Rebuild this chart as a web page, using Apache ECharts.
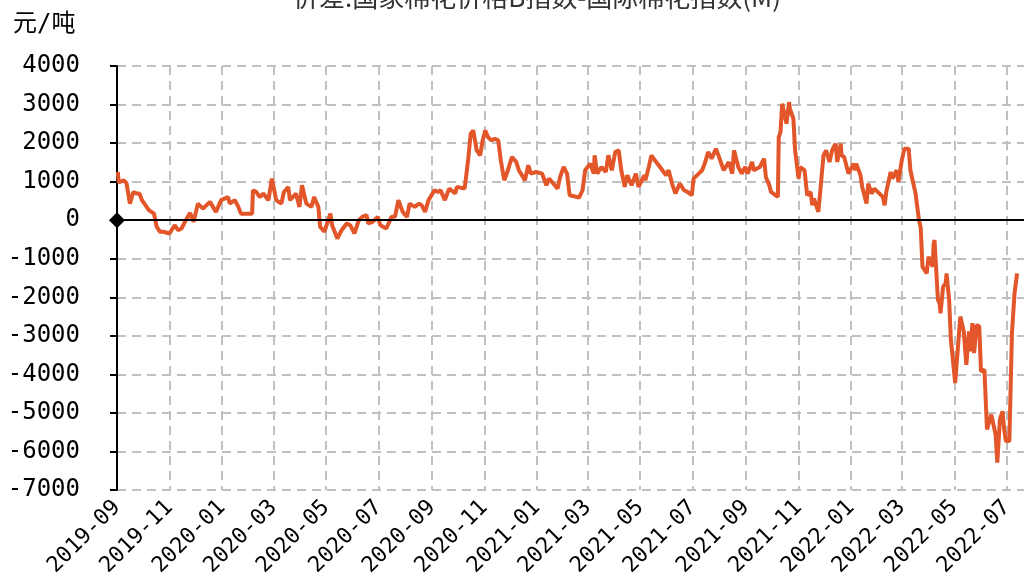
<!DOCTYPE html>
<html>
<head>
<meta charset="utf-8">
<script src="https://cdn.jsdelivr.net/npm/echarts@6/dist/echarts.min.js"></script>
<style>
  html, body { margin: 0; padding: 0; background: #fff; }
  #main { width: 1024px; height: 588px; }
</style>
</head>
<body>
<div id="main"></div>
<script>
// 价差数据（元/吨），按日期
var dates = [
  '2019-09-02','2019-09-03','2019-09-05','2019-09-09','2019-09-12','2019-09-16','2019-09-20','2019-09-24','2019-09-27','2019-09-30',
  '2019-10-08','2019-10-14','2019-10-17','2019-10-21','2019-10-25','2019-11-01','2019-11-07','2019-11-11','2019-11-15','2019-11-20',
  '2019-11-25','2019-11-29','2019-12-04','2019-12-10','2019-12-18','2019-12-25','2019-12-31','2020-01-08','2020-01-10','2020-01-16',
  '2020-01-20','2020-01-23','2020-02-05','2020-02-06','2020-02-10','2020-02-14','2020-02-18','2020-02-24','2020-02-28','2020-03-04',
  '2020-03-10','2020-03-13','2020-03-18','2020-03-20','2020-03-27','2020-03-31','2020-04-03','2020-04-08','2020-04-14','2020-04-17',
  '2020-04-22','2020-04-24','2020-04-29','2020-05-06','2020-05-08','2020-05-14','2020-05-19','2020-05-25','2020-05-29','2020-06-03',
  '2020-06-08','2020-06-12','2020-06-17','2020-06-19','2020-06-24','2020-06-30','2020-07-03','2020-07-10','2020-07-16','2020-07-20',
  '2020-07-24','2020-07-29','2020-08-03','2020-08-06','2020-08-12','2020-08-17','2020-08-20','2020-08-24','2020-08-28','2020-09-04',
  '2020-09-08','2020-09-11','2020-09-16','2020-09-21','2020-09-28','2020-09-30','2020-10-09','2020-10-13','2020-10-16','2020-10-19',
  '2020-10-23','2020-10-27','2020-10-30','2020-11-02','2020-11-05','2020-11-09','2020-11-13','2020-11-17','2020-11-20','2020-11-24',
  '2020-11-27','2020-12-03','2020-12-08','2020-12-11','2020-12-18','2020-12-22','2020-12-25','2020-12-31','2021-01-07','2021-01-12',
  '2021-01-15','2021-01-20','2021-01-25','2021-01-28','2021-02-01','2021-02-05','2021-02-08','2021-02-10','2021-02-19','2021-02-23',
  '2021-02-26','2021-03-04','2021-03-08','2021-03-09','2021-03-12','2021-03-17','2021-03-22','2021-03-25','2021-03-29','2021-04-02',
  '2021-04-06','2021-04-09','2021-04-13','2021-04-16','2021-04-21','2021-04-26','2021-04-29','2021-05-06','2021-05-07','2021-05-11',
  '2021-05-14','2021-05-18','2021-05-24','2021-05-31','2021-06-03','2021-06-07','2021-06-11','2021-06-16','2021-06-21','2021-06-25',
  '2021-06-30','2021-07-02','2021-07-08','2021-07-12','2021-07-15','2021-07-19','2021-07-23','2021-07-28','2021-08-02','2021-08-06',
  '2021-08-12','2021-08-16','2021-08-18','2021-08-23','2021-08-27','2021-08-31','2021-09-03','2021-09-08','2021-09-10','2021-09-17',
  '2021-09-22','2021-09-24','2021-09-28','2021-09-30','2021-10-08','2021-10-09','2021-10-11','2021-10-13','2021-10-15','2021-10-18',
  '2021-10-21','2021-10-22','2021-10-26','2021-10-28','2021-11-01','2021-11-03','2021-11-08','2021-11-11','2021-11-15','2021-11-17',
  '2021-11-19','2021-11-24','2021-11-26','2021-11-30','2021-12-03','2021-12-07','2021-12-10','2021-12-14','2021-12-16','2021-12-20',
  '2021-12-21','2021-12-24','2021-12-29','2022-01-04','2022-01-06','2022-01-07','2022-01-12','2022-01-14','2022-01-19','2022-01-21',
  '2022-01-25','2022-01-28','2022-02-07','2022-02-09','2022-02-11','2022-02-16','2022-02-18','2022-02-23','2022-02-25','2022-03-01',
  '2022-03-04','2022-03-09','2022-03-11','2022-03-17','2022-03-21','2022-03-23','2022-03-25','2022-03-30','2022-04-01','2022-04-06',
  '2022-04-07','2022-04-08','2022-04-12','2022-04-14','2022-04-15','2022-04-18','2022-04-21','2022-04-22','2022-04-25','2022-04-27',
  '2022-04-29','2022-05-02','2022-05-05','2022-05-08','2022-05-12','2022-05-15','2022-05-18','2022-05-20','2022-05-22','2022-05-24',
  '2022-05-27','2022-05-30','2022-06-01','2022-06-05','2022-06-08','2022-06-13','2022-06-18','2022-06-20','2022-06-23','2022-06-26',
  '2022-06-28','2022-06-30','2022-07-04','2022-07-07','2022-07-10','2022-07-12','2022-07-13'
];
var values = [
  1250, 980, 960, 1030, 960, 430, 730, 690, 690, 520,
  260, 170, -170, -300, -300, -345, -130, -260, -215, 0,
  190, -43, 430, 300, 475, 215, 520, 600, 430, 520,
  345, 170, 170, 777, 730, 600, 690, 520, 1080, 520,
  430, 730, 860, 520, 690, 345, 906, 430, 345, 600,
  345, -170, -300, 170, -130, -475, -260, -86, -130, -345,
  0, 86, 130, -86, -43, 86, -130, -215, 86, 86,
  520, 215, 86, 430, 345, 430, 390, 215, 520, 777,
  730, 777, 520, 820, 690, 863, 820, 1553, 2244, 2330,
  1812, 1683, 2071, 2330, 2157, 2071, 2114, 2071, 1553, 1036,
  1208, 1640, 1510, 1295, 1036, 1424, 1208, 1250, 1208, 906,
  1079, 950, 820, 1122, 1380, 1208, 647, 604, 587, 777,
  1295, 1467, 1208, 1683, 1208, 1380, 1251, 1683, 1295, 1769,
  1812, 1295, 863, 1165, 906, 1208, 863, 1165, 1036, 1380,
  1683, 1553, 1380, 1165, 1295, 950, 690, 950, 777, 734,
  647, 1079, 1208, 1295, 1467, 1769, 1597, 1855, 1553, 1295,
  1510, 1208, 1812, 1380, 1208, 1380, 1208, 1510, 1295, 1380,
  1597, 1122, 906, 734, 604, 2157, 2287, 3020, 3063, 2503,
  3063, 2890, 2632, 1812, 1079, 1380, 1295, 647, 734, 388,
  561, 216, 690, 1683, 1812, 1510, 1812, 1985, 1510, 1985,
  1683, 1640, 1208, 1467, 1295, 1467, 1165, 863, 432, 950,
  690, 820, 604, 388, 734, 1251, 1079, 1295, 993, 1553,
  1855, 1855, 1295, 690, 0, -200, -1207, -1380, -948, -1207,
  -603, -517, -2069, -2155, -2414, -1724, -1638, -1380, -2069, -3103,
  -3534, -4224, -3362, -2500, -2888, -3750, -2888, -3405, -2672, -3448,
  -2715, -2758, -3922, -3879, -5430, -5043, -5560, -6292, -5172, -4957,
  -5430, -5732, -5732, -2931, -1897, -1552, -1380
];
// x 轴刻度（每两个月）
var tickMonths = [
  '2019-09-01','2019-11-01','2020-01-01','2020-03-01','2020-05-01','2020-07-01','2020-09-01','2020-11-01',
  '2021-01-01','2021-03-01','2021-05-01','2021-07-01','2021-09-01','2021-11-01','2022-01-01','2022-03-01',
  '2022-05-01','2022-07-01'
];
var xMin = '2019-09-01', xMax = '2022-07-21';
var yMin = -7000, yMax = 4000, yStep = 1000;

function ts(d) { return echarts.time.parse(d).getTime(); }
var tickTs = tickMonths.map(ts);
var seriesData = dates.map(function (d, i) { return [ts(d), values[i]]; });

var mono = '"DejaVu Sans Mono", monospace';
var myChart = echarts.init(document.getElementById('main'));
var option = {
  animation: false,
  title: [{
    text: '价差:国家棉花价格B指数-国际棉花指数(M)',
    left: 288,
    top: -21,
    textStyle: { fontSize: 26, fontWeight: 'normal', color: '#333', fontFamily: '"Noto Sans CJK SC", sans-serif' }
  }, {
    text: '元/吨',
    left: 8,
    top: 8,
    textStyle: { fontSize: 24, fontWeight: 'normal', color: '#000', fontFamily: '"DejaVu Sans Mono", "Noto Sans CJK SC", monospace' }
  }],
  grid: { left: 117, right: 0, top: 66, bottom: 98 },
  xAxis: {
    type: 'value',
    min: ts(xMin),
    max: ts(xMax),
    axisLine: { show: false },
    axisTick: { show: false, customValues: tickTs },
    axisLabel: {
      customValues: tickTs,
      rotate: 45,
      margin: 14,
      fontSize: 22,
      fontFamily: mono,
      color: '#000',
      formatter: function (v) { return echarts.time.format(v, '{yyyy}-{MM}', false); }
    },
    splitLine: { show: true, lineStyle: { color: '#c0c0c0', width: 2, type: [9, 6] } }
  },
  yAxis: {
    type: 'value',
    min: yMin,
    max: yMax,
    interval: yStep,
    axisLine: { show: true, lineStyle: { color: '#000', width: 2 } },
    axisTick: { show: true, length: 7, lineStyle: { color: '#000', width: 2 } },
    axisLabel: {
      margin: 37, fontSize: 24, fontFamily: mono, color: '#000',
      formatter: function (v) { return String(v); }
    },
    splitLine: { show: true, lineStyle: { color: '#c0c0c0', width: 2, type: [9, 6] } }
  },
  series: [{
    type: 'line',
    data: seriesData,
    showSymbol: false,
    lineStyle: { color: '#E2562A', width: 4 },
    markLine: {
      silent: true,
      symbol: ['diamond', 'none'],
      symbolSize: 16,
      label: { show: false },
      lineStyle: { color: '#000', width: 2, type: 'solid' },
      itemStyle: { color: '#000' },
      data: [{ yAxis: 0 }]
    }
  }]
};
myChart.setOption(option);
</script>
</body>
</html>
